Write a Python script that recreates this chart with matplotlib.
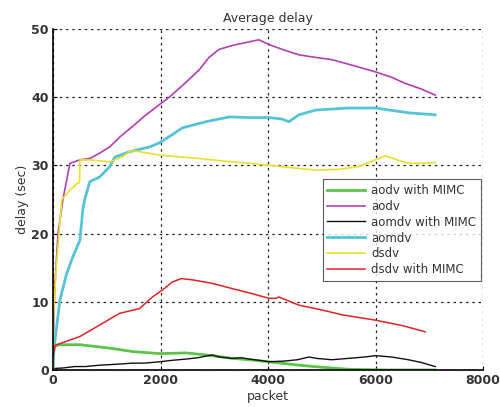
import matplotlib
matplotlib.use('Agg')
import matplotlib.pyplot as plt

# packet index / average delay (sec) per protocol
aodv_x = [0, 15, 37, 93, 185, 315, 500, 685, 870, 1055, 1250, 1480, 1700, 1980, 2165,
          2450, 2720, 2900, 3090, 3350, 3650, 3830, 4020, 4300, 4575, 4900, 5185,
          5600, 6000, 6300, 6555, 6850, 7110]
aodv_y = [0, 8, 12.7, 20, 25, 30.3, 30.8, 31, 31.8, 32.7, 34.2, 35.7, 37.2, 38.9, 40,
          42, 44, 45.8, 47, 47.6, 48.1, 48.4, 47.7, 46.9, 46.2, 45.8, 45.5,
          44.6, 43.7, 42.9, 42, 41.2, 40.3]

aomdv_x = [0, 15, 37, 130, 250, 370, 500, 555, 590, 685, 870, 1055, 1150, 1425, 1800,
           1980, 2200, 2410, 2850, 3280, 3650, 4020, 4250, 4390, 4575, 4890, 5500,
           6000, 6610, 7110]
aomdv_y = [0, 2.5, 4.4, 10.3, 14, 16.6, 19, 23.5, 25, 27.6, 28.3, 29.8, 31.2, 32, 32.7,
           33.3, 34.4, 35.5, 36.4, 37.1, 37, 37, 36.8, 36.4, 37.4, 38.1, 38.4,
           38.4, 37.7, 37.4]

dsdv_x = [0, 10, 60, 165, 220, 330, 445, 495, 500, 685, 1055, 1300, 1460, 1610, 1980,
          2400, 2720, 3200, 3650, 4020, 4500, 4890, 5300, 5685, 6000, 6185, 6400,
          6610, 6850, 7110]
dsdv_y = [0, 7.8, 15, 25, 25.5, 26.5, 27.3, 27.5, 30.8, 30.8, 30.5, 31.3, 32.2, 32, 31.5,
          31.2, 31, 30.6, 30.3, 30, 29.6, 29.3, 29.4, 29.8, 30.8, 31.4, 30.8,
          30.3, 30.3, 30.4]

dsdv_mimc_x = [0, 37, 250, 500, 870, 1240, 1610, 1850, 2050, 2220, 2390, 2600, 2960,
               3300, 3650, 4020, 4150, 4200, 4575, 5000, 5370, 6000, 6500, 6925]
dsdv_mimc_y = [1.9, 3.6, 4.2, 4.9, 6.6, 8.3, 9, 10.7, 11.8, 12.9, 13.4, 13.2, 12.7,
               12, 11.3, 10.5, 10.5, 10.7, 9.5, 8.8, 8.1, 7.3, 6.5, 5.6]

aodv_mimc_x = [0, 30, 93, 500, 1055, 1480, 1980, 2480, 2850, 3335, 3650, 4020, 4575,
               5000, 5500, 6200, 7110]
aodv_mimc_y = [2.5, 3.4, 3.7, 3.7, 3.2, 2.7, 2.4, 2.5, 2.2, 1.7, 1.5, 1.2, 0.7,
               0.4, 0.1, 0, 0]

aomdv_mimc_x = [0, 200, 400, 600, 870, 1100, 1300, 1480, 1700, 1980, 2200, 2480, 2700,
                2960, 3100, 3335, 3500, 3650, 3850, 4020, 4300, 4550, 4760, 4900,
                5185, 5500, 5800, 6000, 6300, 6610, 6850, 7110]
aomdv_mimc_y = [0.2, 0.3, 0.5, 0.5, 0.7, 0.8, 0.9, 1.0, 1.0, 1.2, 1.4, 1.6, 1.8,
                2.2, 1.9, 1.7, 1.8, 1.6, 1.4, 1.2, 1.3, 1.5, 1.9, 1.7,
                1.5, 1.7, 1.9, 2.1, 1.9, 1.5, 1.1, 0.5]

xticks = [0, 2000, 4000, 6000, 8000]
yticks = [0, 10, 20, 30, 40, 50]

fig = plt.figure(figsize=(5.0, 4.07), dpi=100)
ax = fig.add_axes([0.106, 0.091, 0.860, 0.838])

ax.plot(aodv_mimc_x, aodv_mimc_y, color='#5cc24a', lw=2.0, label='aodv with MIMC')
ax.plot(aodv_x, aodv_y, color='#b23fb5', lw=1.2, label='aodv')
ax.plot(aomdv_mimc_x, aomdv_mimc_y, color='#111111', lw=1.0, label='aomdv with MIMC')
ax.plot(aomdv_x, aomdv_y, color='#55c3d8', lw=2.0, label='aomdv')
ax.plot(dsdv_x, dsdv_y, color='#e8e02a', lw=1.2, label='dsdv')
ax.plot(dsdv_mimc_x, dsdv_mimc_y, color='#e02424', lw=1.1, label='dsdv with MIMC')

ax.set_xlim(0, 8000)
ax.set_ylim(0, 50)
ax.set_xticks(xticks)
ax.set_yticks(yticks)
ax.tick_params(labelsize=9, direction='in', length=3, pad=3)
for lbl in ax.get_xticklabels() + ax.get_yticklabels():
    lbl.set_color('#333333')
    lbl.set_fontweight('semibold')
ax.grid(True, color='#222222', ls=(0, (2, 3)), lw=0.9)
ax.spines['top'].set_visible(False)
ax.spines['right'].set_visible(False)
ax.spines['left'].set_linewidth(1.2)
ax.spines['bottom'].set_linewidth(1.2)

ax.set_title('Average delay', fontsize=9, color='#333333', pad=5)
ax.set_xlabel('packet', fontsize=9, color='#333333', labelpad=2)
ax.set_ylabel('delay (sec)', fontsize=9, color='#333333', labelpad=2)

leg = ax.legend(loc='upper left', bbox_to_anchor=(0.627, 0.56), fontsize=8.5,
                frameon=True, fancybox=False, edgecolor='#333333',
                handlelength=3.2, borderpad=0.4, labelspacing=0.25,
                handletextpad=0.5, borderaxespad=0)
leg.get_frame().set_linewidth(0.8)
for t in leg.get_texts():
    t.set_color('#333333')

fig.savefig('out.png', dpi=100)
